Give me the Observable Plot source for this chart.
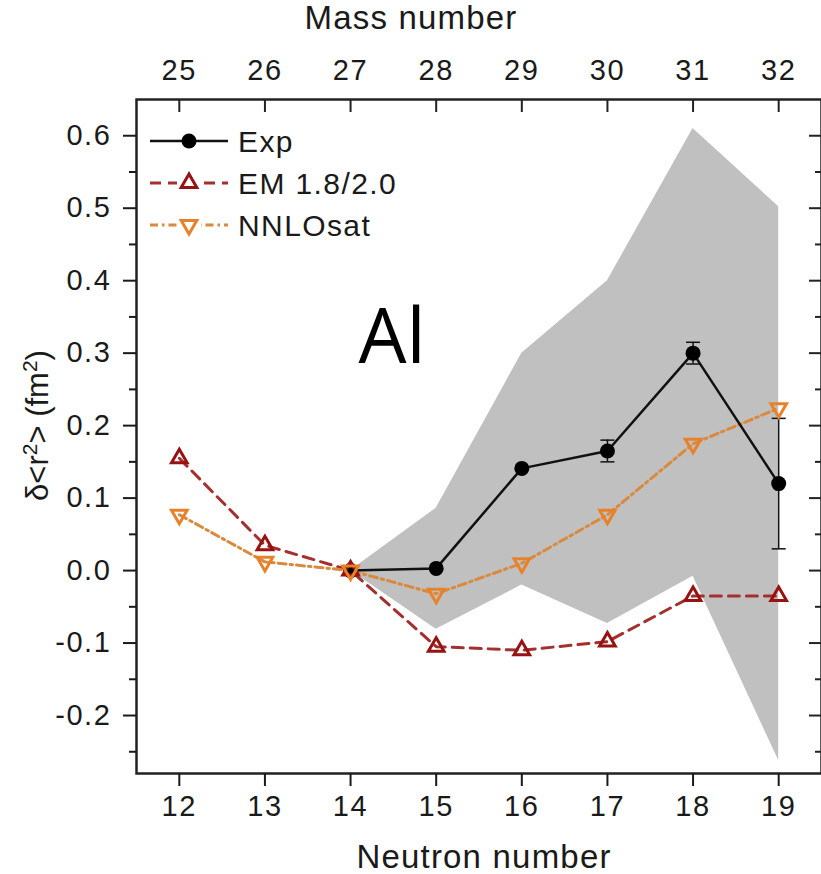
<!DOCTYPE html>
<html>
<head>
<meta charset="utf-8">
<script src="https://cdn.jsdelivr.net/npm/d3@7"></script>
<script src="https://cdn.jsdelivr.net/npm/@observablehq/plot@0.6"></script>
<style>
  html, body { margin: 0; padding: 0; background: #fff; }
  #chart { width: 821px; height: 874px; overflow: hidden; }
  #chart svg g[aria-label="y-axis tick label"] text,
  #chart svg g[aria-label="x-axis tick label"] text,
  #chart svg g.toplab text { letter-spacing: 1.6px; }
  #chart svg g.title text { letter-spacing: 1.2px; }
</style>
</head>
<body>
<div id="chart"></div>
<script>
// ---------- data ----------
const neutrons = [12, 13, 14, 15, 16, 17, 18, 19];
const massNumbers = [25, 26, 27, 28, 29, 30, 31, 32];
const emValues = [0.155, 0.035, 0.0, -0.105, -0.110, -0.098, -0.035, -0.035];
const nnloValues = [0.077, 0.012, 0.0, -0.032, 0.010, 0.077, 0.175, 0.224];
const expNeutrons = [14, 15, 16, 17, 18, 19];
const expValues = [0.0, 0.003, 0.141, 0.165, 0.300, 0.120];
const expErrors = [0, 0, 0, 0.015, 0.015, 0.090];
const bandUpper = [0.0, 0.086, 0.300, 0.400, 0.610, 0.502];
const bandLower = [0.0, -0.081, -0.020, -0.073, -0.008, -0.262];
const yTicks = [-0.2, -0.1, 0.0, 0.1, 0.2, 0.3, 0.4, 0.5, 0.6];
const yMinorTicks = [-0.25, -0.15, -0.05, 0.05, 0.15, 0.25, 0.35, 0.45, 0.55];
const legendLabels = ["Exp", "EM 1.8/2.0", "NNLOsat"];

// ---------- tables ----------
const emData = neutrons.map((n, i) => ({n, v: emValues[i]}));
const nnloData = neutrons.map((n, i) => ({n, v: nnloValues[i]}));
const expData = expNeutrons.map((n, i) => ({n, v: expValues[i], e: expErrors[i], lo: bandLower[i], hi: bandUpper[i]}));
const errData = expData.filter(d => d.e > 0);
const topData = neutrons.map((n, i) => ({n, m: massNumbers[i]}));

const EM_LINE = "#a3302e", EM_MARK = "#981212";
const NN_LINE = "#d88a3e", NN_MARK = "#e8822a";
const capSymbol = {draw(ctx) { ctx.moveTo(-7, 0); ctx.lineTo(7, 0); }};

const plotH = 874 - 99 - 101;
const plotW = 821 - 136;

const chart = Plot.plot({
  width: 821,
  height: 874,
  marginTop: 99,
  marginBottom: 101,
  marginLeft: 136,
  marginRight: 0,
  x: {domain: [11.5, 19.5]},
  y: {domain: [-0.28, 0.65]},
  style: {fontFamily: "'Liberation Sans', Arial, sans-serif", fontSize: "29px", color: "#1a1a1a", background: "#fff"},
  marks: [
    Plot.areaY(expData, {x: "n", y1: "lo", y2: "hi", fill: "#c0c0c0", curve: "linear"}),
    Plot.line(emData, {x: "n", y: "v", stroke: EM_LINE, strokeWidth: 3, strokeDasharray: "11,7"}),
    Plot.line(nnloData, {x: "n", y: "v", stroke: NN_LINE, strokeWidth: 3, strokeDasharray: "8,4,2.5,4"}),
    Plot.line(expData, {x: "n", y: "v", stroke: "#111", strokeWidth: 2.5}),
    Plot.ruleX(errData, {x: "n", y1: d => d.v - d.e, y2: d => d.v + d.e, stroke: "#111", strokeWidth: 1.5}),
    Plot.dot(errData, {x: "n", y: d => d.v - d.e, symbol: capSymbol, stroke: "#111", strokeWidth: 1.5, fill: "none"}),
    Plot.dot(errData, {x: "n", y: d => d.v + d.e, symbol: capSymbol, stroke: "#111", strokeWidth: 1.5, fill: "none"}),
    Plot.dot(expData, {x: "n", y: "v", r: 7.5, fill: "#000", stroke: "none"}),
    Plot.dot(emData, {x: "n", y: "v", symbol: "triangle", r: 5.8, stroke: EM_MARK, strokeWidth: 3, fill: "none"}),
    Plot.dot(nnloData, {x: "n", y: "v", symbol: "triangle", rotate: 180, r: 5.8, stroke: NN_MARK, strokeWidth: 3, fill: "none"}),
    // frame
    Plot.frame({stroke: "#222", strokeWidth: 2.5}),
    // bottom axis
    Plot.axisX({ticks: neutrons, tickSize: 13, tickPadding: 9, tickFormat: d => String(d), label: null, strokeWidth: 2}),
    Plot.text(["Neutron number"], {frameAnchor: "bottom", lineAnchor: "middle", dy: 84, dx: 5, fontSize: 33, className: "title"}),
    // top axis (mass number)
    Plot.tickX(topData, {x: "n", insetBottom: plotH - 13, stroke: "#222", strokeWidth: 2}),
    Plot.text(topData, {x: "n", text: "m", frameAnchor: "top", lineAnchor: "middle", dy: -29, className: "toplab"}),
    Plot.text(["Mass number"], {frameAnchor: "top", lineAnchor: "middle", dy: -81, dx: -68, fontSize: 33, className: "title"}),
    // left axis
    Plot.axisY({ticks: yTicks, tickSize: 13, tickPadding: 12, tickFormat: d => d.toFixed(1), label: null, strokeWidth: 2}),
    Plot.axisY({ticks: yMinorTicks, tickSize: 7, tickFormat: () => "", label: null, strokeWidth: 2}),
    // right ticks (inward)
    Plot.tickY(yTicks, {y: d => d, insetLeft: plotW - 12, stroke: "#222", strokeWidth: 2}),
    Plot.tickY(yMinorTicks, {y: d => d, insetLeft: plotW - 6, stroke: "#222", strokeWidth: 2}),
    // y title
    Plot.text(["δ<r2> (fm2)"], {frameAnchor: "left", textAnchor: "middle", lineAnchor: "middle", rotate: -90, dx: -98, dy: -11, fontSize: 31, className: "ytitle"}),
    // element label
    Plot.text(["Al"], {frameAnchor: "top-left", lineAnchor: "middle", dx: 222, dy: 239, textAnchor: "start", fontSize: 76, fontFamily: "'Open Sans', 'Noto Sans', sans-serif", fill: "#000"})
  ]
});

document.getElementById("chart").appendChild(chart);

// superscripts in y title
const svg = d3.select(chart);
svg.selectAll("g.ytitle text").each(function () {
  const t = d3.select(this);
  t.text(null);
  t.append("tspan").text("δ<r");
  t.append("tspan").attr("baseline-shift", "super").attr("font-size", "21px").text("2");
  t.append("tspan").text("> (fm");
  t.append("tspan").attr("baseline-shift", "super").attr("font-size", "21px").text("2");
  t.append("tspan").text(")");
});

// legend
const lg = svg.append("g")
  .attr("font-family", "'Liberation Sans', Arial, sans-serif")
  .attr("font-size", 30)
  .attr("text-anchor", "start")
  .attr("fill", "#1a1a1a");
const rows = [
  {y: 141, stroke: "#111", dash: null, w: 2.5},
  {y: 183, stroke: EM_LINE, dash: "11,7", w: 3},
  {y: 225, stroke: NN_LINE, dash: "8,4,2.5,4", w: 3}
];
rows.forEach((r, i) => {
  lg.append("line").attr("x1", 150).attr("x2", 228).attr("y1", r.y).attr("y2", r.y)
    .attr("stroke", r.stroke).attr("stroke-width", r.w).attr("stroke-dasharray", r.dash);
  if (i === 0) {
    lg.append("circle").attr("cx", 189).attr("cy", r.y).attr("r", 7.5).attr("fill", "#000");
  } else {
    const path = d3.symbol(d3.symbolTriangle, Math.PI * 5.8 * 5.8)();
    lg.append("rect").attr("x", 177).attr("y", r.y - 10).attr("width", 24).attr("height", 20).attr("fill", "#fff");
    lg.append("path").attr("d", path)
      .attr("transform", `translate(189,${r.y})` + (i === 2 ? " rotate(180)" : ""))
      .attr("fill", "none").attr("stroke", i === 1 ? EM_MARK : NN_MARK).attr("stroke-width", 3);
  }
  lg.append("text").attr("x", 238).attr("y", r.y).attr("dy", "0.36em")
    .attr("letter-spacing", "1.4px").text(legendLabels[i]);
});
</script>
</body>
</html>
